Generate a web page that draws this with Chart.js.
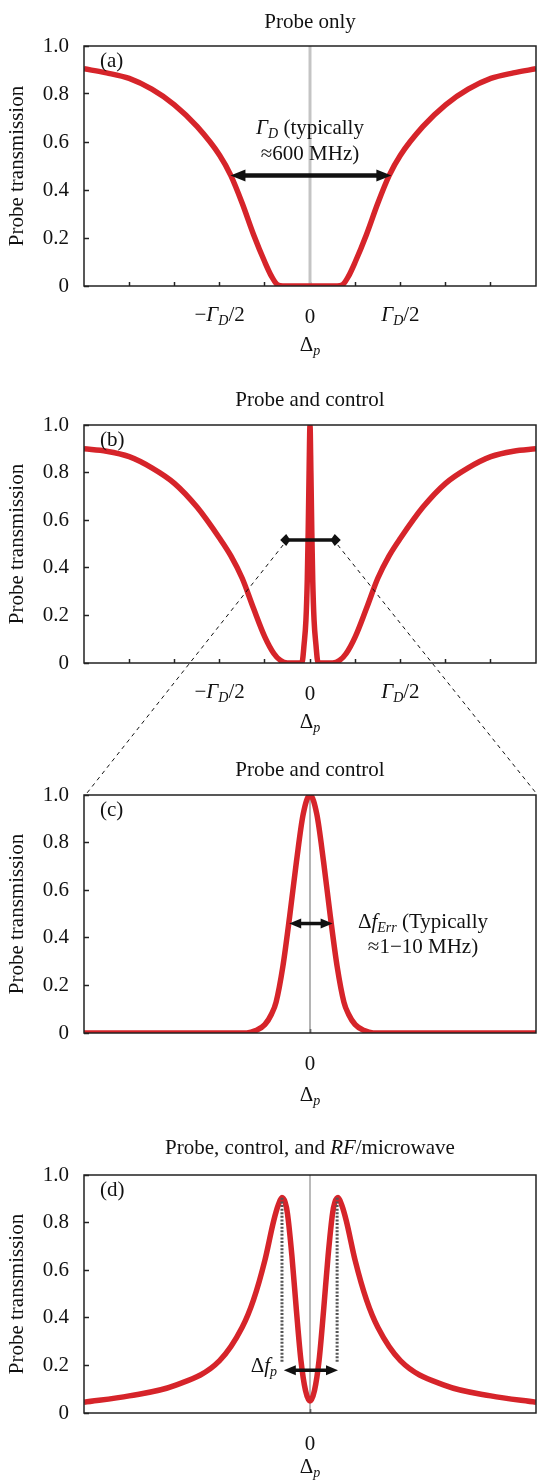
<!DOCTYPE html>
<html>
<head>
<meta charset="utf-8">
<script src="https://cdn.jsdelivr.net/npm/chart.js@4.4.1/dist/chart.umd.min.js"></script>
<style>
  body { margin: 0; background: #fff; width: 537px; height: 1480px; position: relative; overflow: hidden; }
  canvas.panel { position: absolute; left: 0; }
  #overlay { position: absolute; left: 0; top: 0; z-index: 10; pointer-events: none; }
</style>
</head>
<body>
<canvas class="panel" id="chartA" width="537" height="371" style="top:0px"></canvas>
<canvas class="panel" id="chartB" width="537" height="369" style="top:379px"></canvas>
<canvas class="panel" id="chartC" width="537" height="369" style="top:749px"></canvas>
<canvas class="panel" id="chartD" width="537" height="351" style="top:1129px"></canvas>
<canvas id="overlay" width="537" height="1480"></canvas>
<script>
// values (x in tick units, y = probe transmission)
const detuningA = [-5, -4.5, -4, -3.5, -3, -2.5, -2, -1.75, -1.5, -1.25, -1, -0.85, -0.72, -0.6, 0, 0.6, 0.72, 0.85, 1, 1.25, 1.5, 1.75, 2, 2.5, 3, 3.5, 4, 4.5, 5];
const transmissionA = [0.905, 0.888, 0.865, 0.82, 0.755, 0.665, 0.545, 0.46, 0.345, 0.215, 0.1, 0.04, 0.005, 0, 0, 0, 0.005, 0.04, 0.1, 0.215, 0.345, 0.46, 0.545, 0.665, 0.755, 0.82, 0.865, 0.888, 0.905];

const detuningB = [-5, -4.5, -4, -3.5, -3, -2.5, -2, -1.75, -1.5, -1.25, -1, -0.8, -0.65, -0.5, -0.18, -0.13, -0.09, -0.06, -0.04, -0.02, 0, 0.02, 0.04, 0.06, 0.09, 0.13, 0.18, 0.5, 0.65, 0.8, 1, 1.25, 1.5, 1.75, 2, 2.5, 3, 3.5, 4, 4.5, 5];
const transmissionB = [0.9, 0.89, 0.867, 0.82, 0.755, 0.655, 0.524, 0.45, 0.356, 0.23, 0.11, 0.04, 0.01, 0, 0, 0.08, 0.18, 0.35, 0.55, 0.8, 1.0, 0.8, 0.55, 0.35, 0.18, 0.08, 0, 0, 0.01, 0.04, 0.11, 0.23, 0.356, 0.45, 0.524, 0.655, 0.755, 0.82, 0.867, 0.89, 0.9];

const detuningC = [-5, -1.4, -1.2, -1, -0.85, -0.75, -0.6, -0.45, -0.3, -0.15, 0, 0.15, 0.3, 0.45, 0.6, 0.75, 0.85, 1, 1.2, 1.4, 5];
const transmissionC = [0, 0, 0.01, 0.035, 0.08, 0.13, 0.28, 0.49, 0.72, 0.92, 1, 0.92, 0.72, 0.49, 0.28, 0.13, 0.08, 0.035, 0.01, 0, 0];

const detuningD = [-5, -4, -3, -2, -1.5, -1.25, -1, -0.8, -0.7, -0.62, -0.55, -0.5, -0.4, -0.3, -0.2, -0.1, 0, 0.1, 0.2, 0.3, 0.4, 0.5, 0.55, 0.62, 0.7, 0.8, 1, 1.25, 1.5, 2, 3, 4, 5];
const transmissionD = [0.045, 0.072, 0.115, 0.22, 0.36, 0.475, 0.64, 0.81, 0.875, 0.905, 0.885, 0.84, 0.66, 0.43, 0.22, 0.095, 0.05, 0.095, 0.22, 0.43, 0.66, 0.84, 0.885, 0.905, 0.875, 0.81, 0.64, 0.475, 0.36, 0.22, 0.115, 0.072, 0.045];

const yTicks = [0, 0.2, 0.4, 0.6, 0.8, 1.0];
const xTicksAB = [-4, -3, -2, -1, 0, 1, 2, 3, 4];
const xTicksCD = [0];
const halfWidthTicks = [-2, 2];          // -Γ_D/2 and Γ_D/2

// annotation arrows: [from, to, level]
const arrowA = [-1.76, 1.8, 0.46];
const arrowB = [-0.66, 0.68, 0.517];
const arrowC = [-0.46, 0.5, 0.46];
const arrowD = [-0.58, 0.62, 0.18];
const splitLinesD = [-0.62, 0.6];
const splitRangeD = [0.215, 0.905];

const RED = 'rgb(214,36,42)';
const SERIF = "'Liberation Serif', 'Times New Roman', serif";

function fontOf(s) {
    if (s === 'i') return 'italic 21px ' + SERIF;
    if (s === 's') return 'italic 14px ' + SERIF;
    return '21px ' + SERIF;
}

// draws text made of [string, style] parts, style '' normal, 'i' italic, 's' subscript
function richText(ctx, parts, x, y, align) {
    ctx.textBaseline = 'middle';
    ctx.textAlign = 'left';
    ctx.fillStyle = '#111';
    let w = 0;
    parts.forEach(p => { ctx.font = fontOf(p[1]); w += ctx.measureText(p[0]).width; });
    let cx = align === 'center' ? x - w / 2 : (align === 'right' ? x - w : x);
    parts.forEach(p => {
        ctx.font = fontOf(p[1]);
        ctx.fillText(p[0], cx, y + (p[1] === 's' ? 6 : 0));
        cx += ctx.measureText(p[0]).width;
    });
}

function drawArrow(ctx, x1, x2, y, head) {
    ctx.save();
    ctx.strokeStyle = '#111';
    ctx.fillStyle = '#111';
    ctx.lineWidth = head.lw;
    ctx.beginPath();
    ctx.moveTo(x1 + head.len * 0.6, y);
    ctx.lineTo(x2 - head.len * 0.6, y);
    ctx.stroke();
    [[x1, 1], [x2, -1]].forEach(([tip, dir]) => {
        ctx.beginPath();
        ctx.moveTo(tip, y);
        ctx.lineTo(tip + dir * head.len, y - head.half);
        if (head.diamond) ctx.lineTo(tip + dir * head.len * 1.7, y);
        ctx.lineTo(tip + dir * head.len, y + head.half);
        ctx.closePath();
        ctx.fill();
    });
    ctx.restore();
}

const decor = {
    id: 'decor',
    afterDatasetsDraw(chart, args, o) {
        const {ctx, chartArea: a, scales: {x, y}} = chart;
        ctx.save();
        ctx.strokeStyle = '#222';
        ctx.lineWidth = 1.5;
        ctx.strokeRect(a.left, a.top, a.right - a.left, a.bottom - a.top);
        if (o.arrow) {
            drawArrow(ctx, x.getPixelForValue(o.arrow[0]), x.getPixelForValue(o.arrow[1]), y.getPixelForValue(o.arrow[2]), o.head);
        }
        ctx.restore();
    },
    afterDraw(chart, args, o) {
        const {ctx, chartArea: a, scales: {x, y}} = chart;
        ctx.save();
        const mid = (a.left + a.right) / 2;
        richText(ctx, o.title, mid, a.top - o.titleGap, 'center');
        richText(ctx, [['(' + o.letter + ')', '']], a.left + 16, a.top + 15, 'left');
        richText(ctx, [['Δ', ''], ['p', 's']], mid, a.bottom + o.axisGap, 'center');
        if (o.gammaTicks) {
            halfWidthTicks.forEach(v => {
                richText(ctx, [[v < 0 ? '−' : '', ''], ['Γ', 'i'], ['D', 's'], ['/2', '']],
                    x.getPixelForValue(v), a.bottom + 29, 'center');
            });
        }
        (o.notes || []).forEach(n => {
            richText(ctx, n.parts, x.getPixelForValue(n.x), y.getPixelForValue(n.y), n.align);
        });
        ctx.restore();
    }
};

function makePanel(id, xs, ys, xTickValues, axisH, extra) {
    const datasets = [{
        data: xs.map((v, i) => ({x: v, y: ys[i]})),
        borderColor: RED, borderWidth: 5.5, pointRadius: 0,
        cubicInterpolationMode: 'monotone', order: 1
    }];
    if (extra.zeroLine) {
        datasets.push({
            data: [{x: 0, y: 0}, {x: 0, y: 1}],
            borderColor: extra.zeroLine[0], borderWidth: extra.zeroLine[1], pointRadius: 0, order: 2
        });
    }
    (extra.dotted || []).forEach(v => {
        datasets.push({
            data: [{x: v, y: splitRangeD[0]}, {x: v, y: splitRangeD[1]}],
            borderColor: '#555', borderWidth: 3, borderDash: [2, 1.6], pointRadius: 0, order: 0
        });
    });
    return new Chart(document.getElementById(id).getContext('2d'), {
        type: 'line',
        data: {datasets: datasets},
        plugins: [decor],
        options: {
            responsive: false,
            animation: false,
            layout: {padding: {top: 46, right: 1, left: 0, bottom: 0}},
            plugins: {
                legend: {display: false},
                tooltip: {enabled: false},
                decor: extra.decor
            },
            scales: {
                x: {
                    type: 'linear', min: -5, max: 5,
                    afterBuildTicks: s => { s.ticks = xTickValues.map(v => ({value: v})); },
                    afterFit: s => { s.height = axisH; },
                    border: {display: false},
                    grid: {drawOnChartArea: false, tickLength: -4, tickColor: '#222', tickWidth: 1.5},
                    ticks: {
                        autoSkip: false, maxRotation: 0, padding: 23, color: '#111',
                        font: {family: SERIF, size: 21},
                        callback: v => (v === 0 ? '0' : '')
                    }
                },
                y: {
                    min: 0, max: 1,
                    afterBuildTicks: s => { s.ticks = yTicks.map(v => ({value: v})); },
                    afterFit: s => { s.width = 84; },
                    border: {display: false},
                    grid: {drawOnChartArea: false, tickLength: -5, tickColor: '#222', tickWidth: 1.5},
                    ticks: {
                        padding: 20, color: '#111',
                        font: {family: SERIF, size: 21},
                        callback: v => (v === 0 ? '0' : v.toFixed(1))
                    },
                    title: {
                        display: true, text: 'Probe transmission', color: '#111',
                        font: {family: SERIF, size: 21}, padding: {top: 5, bottom: 0}
                    }
                }
            }
        }
    });
}

const headBig = {len: 15, half: 6, lw: 4.5};
const headSmall = {len: 12, half: 5, lw: 3.5};
const headDiamond = {len: 6, half: 6, lw: 3.5, diamond: true};

const chartA = makePanel('chartA', detuningA, transmissionA, xTicksAB, 85, {
    zeroLine: ['#c4c4c4', 3],
    decor: {
        letter: 'a', titleGap: 24, axisGap: 59, gammaTicks: true,
        title: [['Probe only', '']],
        arrow: arrowA, head: headBig,
        notes: [
            {x: 0, y: 0.658, align: 'center', parts: [['Γ', 'i'], ['D', 's'], [' (typically', '']]},
            {x: 0, y: 0.55, align: 'center', parts: [['≈600 MHz)', '']]}
        ]
    }
});

const chartB = makePanel('chartB', detuningB, transmissionB, xTicksAB, 85, {
    decor: {
        letter: 'b', titleGap: 25, axisGap: 59, gammaTicks: true,
        title: [['Probe and control', '']],
        arrow: arrowB, head: headDiamond
    }
});

const chartC = makePanel('chartC', detuningC, transmissionC, xTicksCD, 85, {
    zeroLine: ['#8c8c8c', 1.3],
    decor: {
        letter: 'c', titleGap: 25, axisGap: 62,
        title: [['Probe and control', '']],
        arrow: arrowC, head: headSmall,
        notes: [
            {x: 2.5, y: 0.466, align: 'center', parts: [['Δ', ''], ['f', 'i'], ['Err', 's'], [' (Typically', '']]},
            {x: 2.5, y: 0.36, align: 'center', parts: [['≈1−10 MHz)', '']]}
        ]
    }
});

const chartD = makePanel('chartD', detuningD, transmissionD, xTicksCD, 67, {
    zeroLine: ['#8c8c8c', 1.2],
    dotted: splitLinesD,
    decor: {
        letter: 'd', titleGap: 27, axisGap: 54,
        title: [['Probe, control, and ', ''], ['RF', 'i'], ['/microwave', '']],
        arrow: arrowD, head: headSmall,
        notes: [
            {x: -0.73, y: 0.195, align: 'right', parts: [['Δ', ''], ['f', 'i'], ['p', 's']]}
        ]
    }
});

// dashed zoom lines from the arrow in (b) to the top corners of (c)
function drawZoomLines() {
    const ov = document.getElementById('overlay').getContext('2d');
    const topB = document.getElementById('chartB').offsetTop;
    const topC = document.getElementById('chartC').offsetTop;
    const yStart = topB + chartB.scales.y.getPixelForValue(arrowB[2]) + 5;
    const yEnd = topC + chartC.chartArea.top;
    ov.save();
    ov.strokeStyle = '#111';
    ov.lineWidth = 1;
    ov.setLineDash([4, 4]);
    ov.beginPath();
    ov.moveTo(chartB.scales.x.getPixelForValue(arrowB[0]) + 3, yStart);
    ov.lineTo(chartC.chartArea.left + 3, yEnd - 2);
    ov.moveTo(chartB.scales.x.getPixelForValue(arrowB[1]) - 3, yStart);
    ov.lineTo(chartC.chartArea.right, yEnd - 2);
    ov.stroke();
    ov.restore();
}
drawZoomLines();
</script>
</body>
</html>
